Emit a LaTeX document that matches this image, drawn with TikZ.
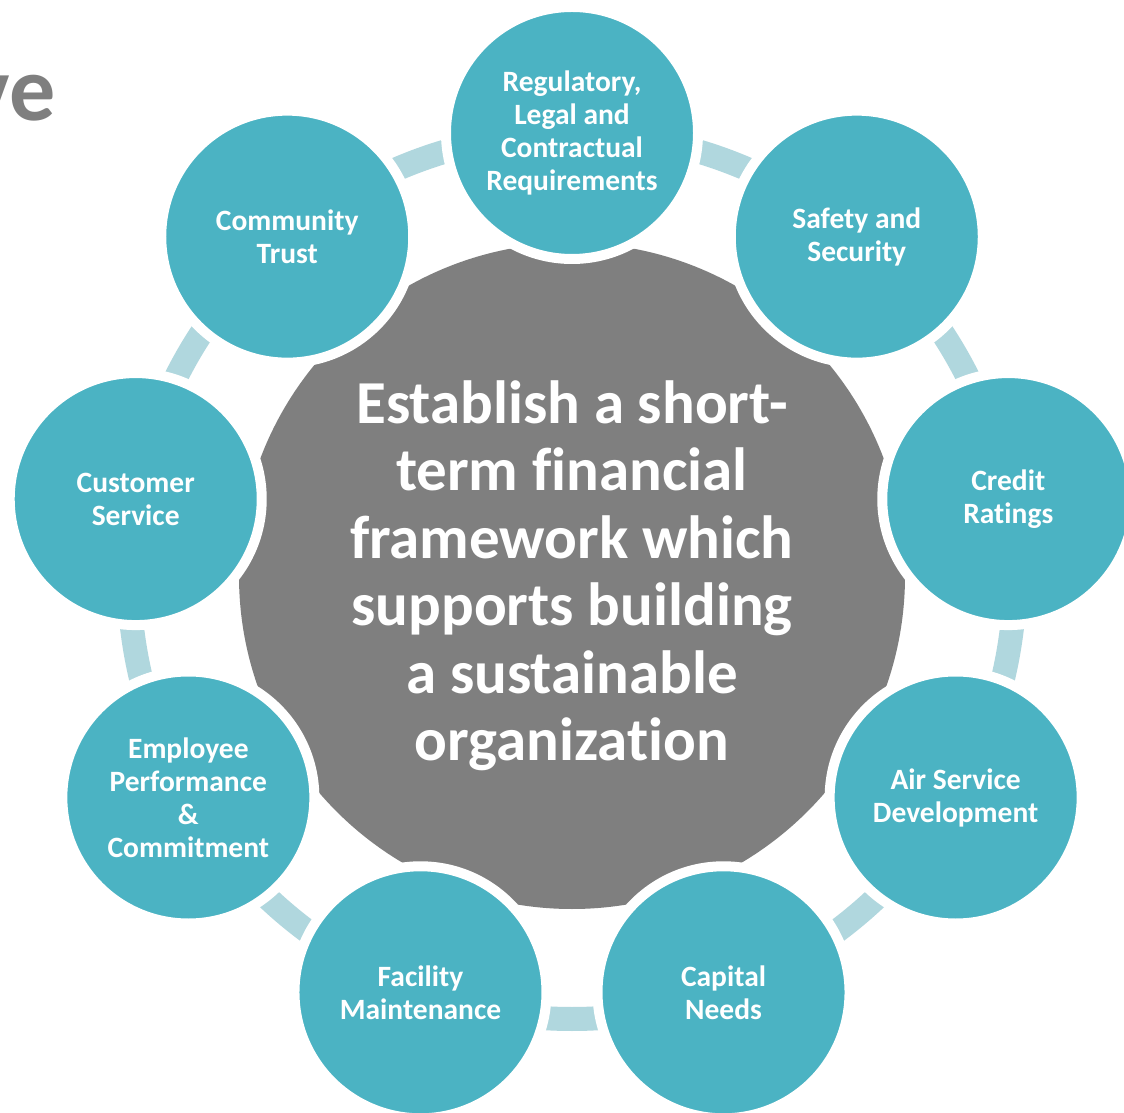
\documentclass[tikz,border=0pt]{standalone}
\usepackage{fontspec}
\setmainfont{Carlito}[Ligatures={NoCommon}]
\usetikzlibrary{backgrounds}
\definecolor{teal1}{HTML}{4BB3C3}
\definecolor{ringc}{HTML}{B0D7DE}
\definecolor{grayc}{HTML}{7F7F7F}
\tikzset{
  outer/.style={circle, minimum size=252pt, inner sep=0pt, fill=teal1, draw=white, line width=10pt,
    text=white, align=center, font=\fontsize{29.5}{33}\selectfont\bfseries},
  hub/.style={circle, minimum size=666pt, inner sep=0pt, fill=grayc, text=white, align=center,
    font=\fontsize{61}{67.5}\selectfont\bfseries},
  ringseg/.style={draw=ringc, line width=24pt},
  titletext/.style={text=grayc, inner sep=0pt, anchor=base east, font=\fontsize{92}{92}\selectfont\bfseries}
}
\begin{document}
\begin{tikzpicture}[x=1pt,y=1pt]
\clip (0,0) rectangle (1124,1112);
\coordinate (C) at (572,536);
\node[titletext] (title) at (56,991) {ve};
\node[hub] (hub) at (C) {Establish a short-\\term financial\\framework which\\supports building\\a sustainable\\organization};
\path (C) ++(90:443) node[outer] (reg) {Regulatory,\\Legal and\\Contractual\\Requirements};
\path (C) ++(50:443) node[outer] (saf) {Safety and\\Security};
\path (C) ++(10:443) node[outer] (cre) {Credit\\Ratings};
\path (C) ++(-30:443) node[outer] (air) {Air Service\\Development};
\path (C) ++(-70:443) node[outer] (cap) {Capital\\Needs};
\path (C) ++(-110:443) node[outer] (fac) {Facility\\Maintenance};
\path (C) ++(-150:443) node[outer] (emp) {Employee\\Performance\\\&\\Commitment};
\path (C) ++(170:443) node[outer] (cus) {Customer\\Service};
\path (C) ++(130:443) node[outer] (com) {Community\\Trust};
\begin{pgfonlayer}{background}
\fill[white] (0,0) rectangle (1124,1112);
\draw[ringseg] (reg.center) arc[start angle=90, end angle=50, radius=443];
\draw[ringseg] (saf.center) arc[start angle=50, end angle=10, radius=443];
\draw[ringseg] (cre.center) arc[start angle=10, end angle=-30, radius=443];
\draw[ringseg] (air.center) arc[start angle=-30, end angle=-70, radius=443];
\draw[ringseg] (cap.center) arc[start angle=-70, end angle=-110, radius=443];
\draw[ringseg] (fac.center) arc[start angle=-110, end angle=-150, radius=443];
\draw[ringseg] (emp.center) arc[start angle=-150, end angle=-190, radius=443];
\draw[ringseg] (cus.center) arc[start angle=170, end angle=130, radius=443];
\draw[ringseg] (com.center) arc[start angle=130, end angle=90, radius=443];
\end{pgfonlayer}
\end{tikzpicture}
\end{document}
